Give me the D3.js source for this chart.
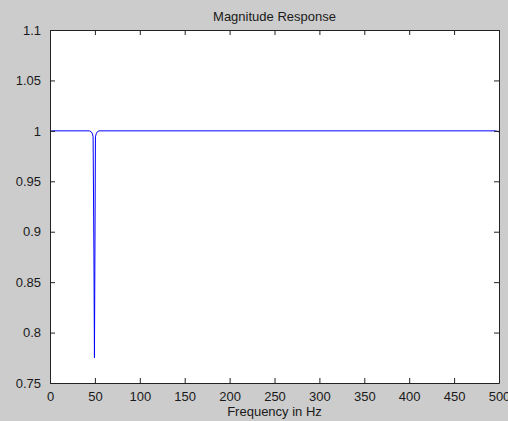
<!DOCTYPE html>
<html><head><meta charset="utf-8">
<script src="https://cdn.jsdelivr.net/npm/d3@7"></script>
<style>
html,body{margin:0;padding:0;background:#cccccc;overflow:hidden;}
svg{display:block;}
text{font-family:"Liberation Sans",Arial,sans-serif;fill:#1a1a1a;}
</style></head><body>
<script>
const title = "Magnitude Response";
const xLabel = "Frequency in Hz";
const freqHz = [0, 2, 44, 46, 47.3, 48, 48.9, 49.5, 50.6, 51.4, 52.7, 54.5, 496, 500];
const magnitude = [0.999, 1.0, 1.0, 0.999, 0.997, 0.994, 0.88, 0.775, 0.994, 0.997, 0.999, 1.0, 1.0, 0.999];
const xTicks = [0, 50, 100, 150, 200, 250, 300, 350, 400, 450, 500];
const yTicks = [0.75, 0.8, 0.85, 0.9, 0.95, 1, 1.05, 1.1];

const W = 508, H = 421;
const m = {left: 50, right: 9, top: 30, bottom: 38};
const svg = d3.select("body").append("svg").attr("width", W).attr("height", H);
const x = d3.scaleLinear().domain([0, 500]).range([m.left, W - m.right]);
const y = d3.scaleLinear().domain([0.75, 1.1]).range([H - m.bottom, m.top]);

svg.append("rect").attr("x", m.left).attr("y", m.top)
  .attr("width", W - m.right - m.left).attr("height", H - m.bottom - m.top)
  .attr("fill", "#fff");

const line = d3.line().x((d, i) => x(freqHz[i])).y(d => y(d));
svg.append("path").datum(magnitude).attr("d", line)
  .attr("fill", "none").attr("stroke", "#0000ff").attr("stroke-width", 1);

const fmt = d => String(d);
const tl = -5;
function style(g, showText) {
  g.select(".domain").attr("stroke", "#222");
  g.selectAll(".tick line").attr("stroke", "#222");
  g.selectAll("text").style("font-size", "13px").attr("fill", "#1a1a1a");
  if (!showText) g.selectAll("text").remove();
}
svg.append("g").attr("transform", `translate(0,${H - m.bottom})`)
  .call(d3.axisBottom(x).tickValues(xTicks).tickFormat(fmt).tickSizeInner(tl).tickSizeOuter(0).tickPadding(9))
  .call(g => style(g, true));
svg.append("g").attr("transform", `translate(0,${m.top})`)
  .call(d3.axisTop(x).tickValues(xTicks).tickSizeInner(tl).tickSizeOuter(0))
  .call(g => style(g, false));
svg.append("g").attr("transform", `translate(${m.left},0)`)
  .call(d3.axisLeft(y).tickValues(yTicks).tickFormat(fmt).tickSizeInner(tl).tickSizeOuter(0).tickPadding(9))
  .call(g => style(g, true));
svg.append("g").attr("transform", `translate(${W - m.right},0)`)
  .call(d3.axisRight(y).tickValues(yTicks).tickSizeInner(tl).tickSizeOuter(0))
  .call(g => style(g, false));

svg.append("text").attr("x", (m.left + W - m.right) / 2).attr("y", 21)
  .attr("text-anchor", "middle").style("font-size", "13px").text(title);
svg.append("text").attr("x", (m.left + W - m.right) / 2).attr("y", 416)
  .attr("text-anchor", "middle").style("font-size", "13px").text(xLabel);
</script>
</body></html>
